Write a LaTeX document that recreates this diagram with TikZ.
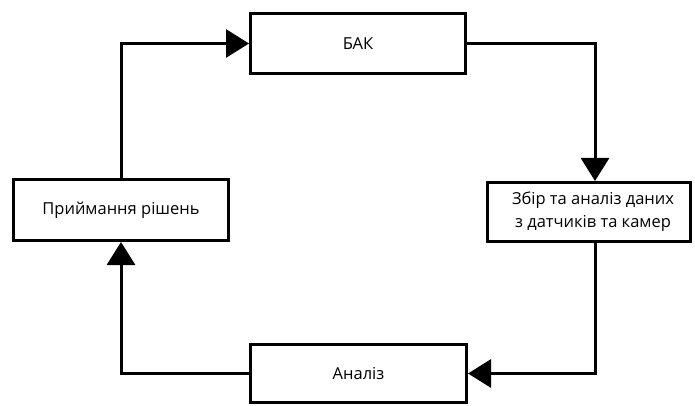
\documentclass[tikz,border=0pt]{standalone}
\usepackage{fontspec}
\setmainfont{Open Sans}
\usetikzlibrary{arrows.meta}
\begin{document}
\begin{tikzpicture}[x=1pt,y=-1pt,
  box/.style={draw,line width=3pt,fill=white,inner sep=0pt,align=center,font=\fontsize{16.5}{23}\selectfont},
  txt/.style={inner sep=0pt,align=center,font=\fontsize{16.5}{23}\selectfont},
  conn/.style={line width=3pt,-{Triangle[length=23pt,width=28pt]}}]
\useasboundingbox (0,0) rectangle (695,406);
\node[box,minimum width=215pt,minimum height=60pt] (bak) at (358,43.5) {БАК};
\node[box,minimum width=203pt,minimum height=59pt] (right) at (589,212) {};
\node[txt] (righttext) at (593,212) {Збір та аналіз даних\\з датчиків та камер};
\node[box,minimum width=216pt,minimum height=58pt] (anal) at (358.5,373.5) {Аналіз};
\node[box,minimum width=215pt,minimum height=61pt] (left) at (121,210) {Приймання рішень};
\coordinate (rx) at (595,0);
\draw[conn] (left.north) |- (bak.west);
\draw[conn] (bak.east) -| (right.north -| rx);
\draw[conn] (right.south -| rx) |- (anal.east);
\draw[conn] (anal.west) -| (left.south);
\end{tikzpicture}
\end{document}
